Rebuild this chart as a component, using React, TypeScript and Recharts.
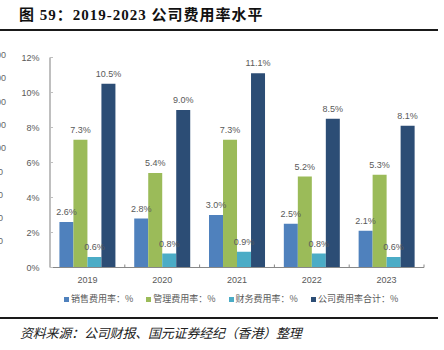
import React from 'react';
import { BarChart, Bar, XAxis, YAxis, LabelList } from 'recharts';

const years = ['2019', '2020', '2021', '2022', '2023'];
const sellingRate = [2.6, 2.8, 3.0, 2.5, 2.1];
const adminRate = [7.3, 5.4, 7.3, 5.2, 5.3];
const financeRate = [0.6, 0.8, 0.9, 0.8, 0.6];
const totalRate = [10.5, 9.0, 11.1, 8.5, 8.1];
const yTicks = [0, 2, 4, 6, 8, 10, 12];
const seriesNames = ['销售费用率：%', '管理费用率：%', '财务费用率：%', '公司费用率合计：%'];
const seriesColors = ['#4F81BD', '#9BBB59', '#4BACC6', '#2C4D75'];
const seriesKeys = ['selling', 'admin', 'finance', 'total'];
// cut-off labels of a hidden axis at the left edge of the original picture
const edgeLabels = ['00', '00', '00', '00', '00', '0', '0', '0', '0'];

const data = years.map((year, i) => ({
  year,
  selling: sellingRate[i],
  admin: adminRate[i],
  finance: financeRate[i],
  total: totalRate[i],
}));

const LABEL_FONT = '"Liberation Sans", Arial, sans-serif';
const CJK_FONT = '"Noto Sans CJK SC", sans-serif';

const XTick = (props: any) => {
  const { x, y, payload, width } = props;
  const bw = width / years.length;
  const axisY = y - 9;
  return (
    <g>
      <line x1={x + bw / 2} x2={x + bw / 2} y1={axisY} y2={axisY - 3} stroke="#888" strokeWidth={1} />
      <text x={x} y={y} dy="0.71em" textAnchor="middle" fill="#595959" fontSize={9} fontFamily={LABEL_FONT}>
        {payload.value}
      </text>
    </g>
  );
};

export default function App() {
  return (
    <div style={{ position: 'absolute', left: 0, top: 0, width: 444, height: 350, background: '#fff', overflow: 'hidden' }}>
      <div style={{ position: 'absolute', left: 19, top: 3, fontSize: 15, fontWeight: 'bold', letterSpacing: 1, color: '#111', fontFamily: '"Liberation Serif", "Noto Sans CJK SC", serif', whiteSpace: 'nowrap' }}>
        图 59：2019-2023 公司费用率水平
      </div>
      <div style={{ position: 'absolute', left: 0, top: 29, width: 438, height: 2, background: '#1a1a1a' }} />

      {edgeLabels.map((t, i) => (
        <div key={i} style={{ position: 'absolute', right: i < 5 ? 438 : 441, top: 49 + i * 23.3, fontSize: 9, lineHeight: '12px', color: '#666', fontFamily: LABEL_FONT }}>
          {t}
        </div>
      ))}

      <div style={{ position: 'absolute', left: 0, top: 0 }}>
        <BarChart
          width={444}
          height={350}
          data={data}
          margin={{ top: 57.5, right: 20, bottom: 52.5, left: 0 }}
          barCategoryGap="12.6%"
          barGap={0}
        >
          <XAxis
            dataKey="year"
            height={30}
            axisLine={{ stroke: '#888', strokeWidth: 1 }}
            tickLine={false}
            tickSize={0}
            tickMargin={9}
            tick={<XTick />}
            interval={0}
          />
          <YAxis
            width={50}
            domain={[0, 12]}
            ticks={yTicks}
            interval={0}
            axisLine={{ stroke: '#BFBFBF', strokeWidth: 2 }}
            tickLine={{ stroke: '#BFBFBF', strokeWidth: 1 }}
            tickSize={-3}
            tickMargin={13.5}
            tick={{ fill: '#595959', fontSize: 9, fontFamily: LABEL_FONT }}
            tickFormatter={(v: number) => `${v}%`}
          />
          {seriesKeys.map((k, i) => (
            <Bar key={k} dataKey={k} name={seriesNames[i]} fill={seriesColors[i]} isAnimationActive={false}>
              <LabelList
                dataKey={k}
                position="top"
                offset={7}
                fill="#595959"
                fontSize={9}
                fontFamily={LABEL_FONT}
                formatter={(v: any) => `${Number(v).toFixed(1)}%`}
              />
            </Bar>
          ))}
        </BarChart>
      </div>

      <div style={{ position: 'absolute', left: 64, top: 293, display: 'flex', alignItems: 'center', fontSize: 9, lineHeight: '12px', color: '#595959', fontFamily: CJK_FONT, whiteSpace: 'nowrap' }}>
        {seriesNames.map((n, i) => (
          <div key={n} style={{ display: 'flex', alignItems: 'center', marginRight: 13 }}>
            <span style={{ display: 'inline-block', width: 5, height: 5, background: seriesColors[i], marginRight: 2 }} />
            <span>{n}</span>
          </div>
        ))}
      </div>

      <div style={{ position: 'absolute', left: 0, top: 317, width: 438, height: 2, background: '#1a1a1a' }} />
      <div style={{ position: 'absolute', left: 20, top: 324, fontSize: 13, lineHeight: '18px', fontStyle: 'italic', color: '#222', fontFamily: CJK_FONT, letterSpacing: -0.2, whiteSpace: 'nowrap' }}>
        资料来源：公司财报、国元证券经纪（香港）整理
      </div>
    </div>
  );
}
